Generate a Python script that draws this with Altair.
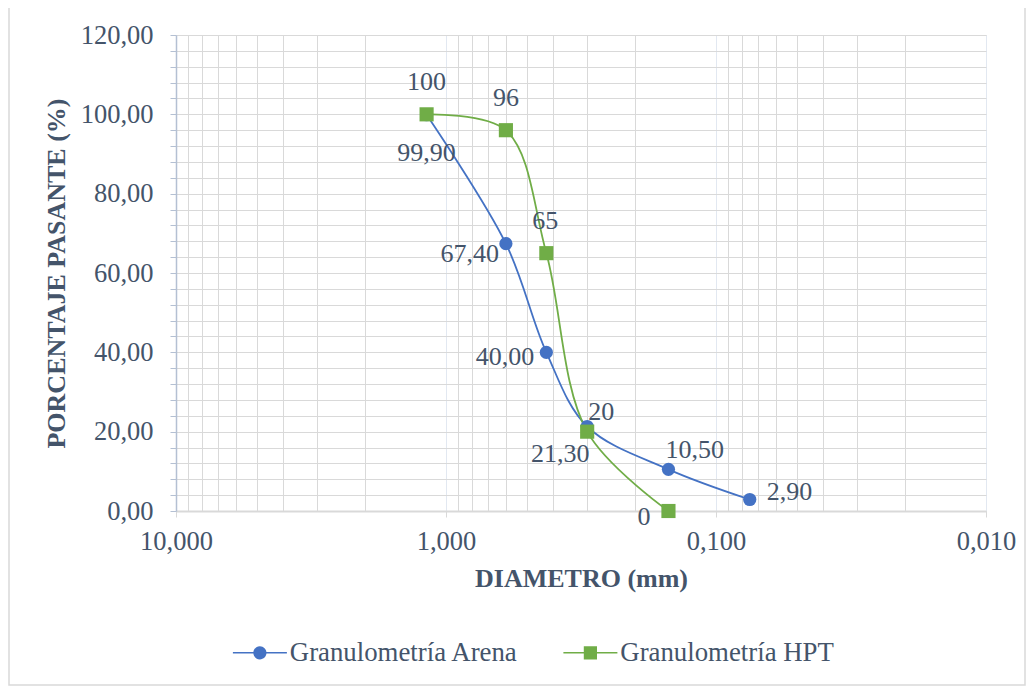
import altair as alt
import pandas as pd

# ---------------- data ----------------
series_names = ["Granulometría Arena", "Granulometría HPT"]
series_colors = ["#4472C4", "#70AD47"]

diam_arena = [1.18, 0.6, 0.425, 0.3, 0.15, 0.075]
pct_arena = [99.90, 67.40, 40.00, 21.30, 10.50, 2.90]

diam_hpt = [1.18, 0.6, 0.425, 0.3, 0.15]
pct_hpt = [100, 96, 65, 20, 0]

x_major = [10, 1, 0.1, 0.01]
y_ticks = list(range(0, 121, 4))

rows = []
for i, (d, p) in enumerate(zip(diam_arena, pct_arena)):
    rows.append({"serie": series_names[0], "i": i, "diam": d, "pct": p,
                 "label": f"{p:.2f}".replace(".", ",")})
for i, (d, p) in enumerate(zip(diam_hpt, pct_hpt)):
    rows.append({"serie": series_names[1], "i": i, "diam": d, "pct": p,
                 "label": f"{p:.0f}"})
df = pd.DataFrame(rows)

# grid values: 1..9 x each decade
x_vals = []
for dec in x_major[:-1]:
    for k in range(10, 1, -1):
        x_vals.append(round(dec * k / 10, 6))
x_vals.append(x_major[-1])
x_vals = sorted(set(x_vals), reverse=True)

FONT = "Liberation Serif"
TXT = "#44546A"
GRID = "#d9d9d9"

is_major = "abs(log(datum.value)/LN10 - round(log(datum.value)/LN10)) < 0.01"

x_axis = alt.Axis(
    values=x_vals,
    labelExpr=f"{is_major} ? replace(format(datum.value, '.3f'), '.', ',') : ''",
    title="DIAMETRO (mm)",
    grid=True,
    gridColor={"condition": {"test": is_major, "value": "#e2e8f1"}, "value": GRID},
    gridWidth=1,
    tickColor={"condition": {"test": is_major, "value": GRID}, "value": "transparent"},
    tickSize=6,
    domainColor=GRID,
    domainWidth=2,
    labelFlush=False,
    labelOverlap=False,
    labelFont=FONT,
    labelFontSize=26.5,
    labelColor=TXT,
    labelPadding=11,
    titleFont=FONT,
    titleFontSize=26,
    titleFontWeight="bold",
    titleColor=TXT,
    titlePadding=11,
)

y_axis = alt.Axis(
    values=y_ticks,
    labelExpr="datum.value % 20 == 0 ? replace(format(datum.value, '.2f'), '.', ',') : ''",
    title="PORCENTAJE PASANTE (%)",
    grid=True,
    gridColor=GRID,
    gridWidth=1,
    tickColor="#b4c0d3",
    tickSize=6,
    domainColor="#b4c0d3",
    domainWidth=1.5,
    labelOverlap=False,
    labelFont=FONT,
    labelFontSize=26.5,
    labelColor=TXT,
    labelPadding=17,
    titleFont=FONT,
    titleFontSize=26,
    titleFontWeight="bold",
    titleColor=TXT,
    titlePadding=11,
)

x_scale = alt.Scale(type="log", domain=[0.01, 10], reverse=True)
y_scale = alt.Scale(domain=[0, 120], nice=False, zero=False)
color_scale = alt.Scale(domain=series_names, range=series_colors)

X = alt.X("diam:Q", scale=x_scale, axis=x_axis)
Y = alt.Y("pct:Q", scale=y_scale, axis=y_axis)

base = alt.Chart(df)

# outer chart frame
frame = alt.Chart(alt.Data(values=[{"f": 1}])).mark_rect(
    fill="transparent", stroke=GRID, strokeWidth=1.5
).encode(
    x=alt.value(-167), x2=alt.value(849), y=alt.value(-29), y2=alt.value(650)
)

# legend symbols: line with marker
path_circle = "M-4.5,-0.13H4.5V0.13H-4.5Z M1.1,0A1.1,1.1,0,1,1,-1.1,0A1.1,1.1,0,1,1,1.1,0Z"
path_square = "M-4.5,-0.13H4.5V0.13H-4.5Z M-1.1,-1.1H1.1V1.1H-1.1Z"

legend_layer = base.transform_filter("false").mark_point(
    filled=True, size=144, opacity=1
).encode(
    x=X, y=Y,
    color=alt.Color("serie:N", scale=color_scale, legend=alt.Legend(
        title=None, orient="none", direction="horizontal",
        legendX=48.5, legendY=604,
        labelFont=FONT, labelFontSize=26.8, labelColor=TXT, labelLimit=500,
        symbolSize=144, symbolStrokeWidth=0, symbolOpacity=1,
        symbolOffset=22, labelOffset=16.5, columnPadding=36.5, padding=0,
    )),
    shape=alt.Shape("serie:N", scale=alt.Scale(domain=series_names,
                                               range=[path_circle, path_square])),
)

lines = base.mark_line(interpolate="catmull-rom", strokeWidth=1.8).encode(
    x=X, y=Y,
    color=alt.Color("serie:N", scale=color_scale),
    detail="serie:N",
)

pts_arena = base.transform_filter(
    alt.datum.serie == series_names[0]
).mark_point(shape="circle", filled=True, size=175, opacity=1).encode(
    x=X, y=Y, color=alt.Color("serie:N", scale=color_scale)
)
pts_hpt = base.transform_filter(
    alt.datum.serie == series_names[1]
).mark_point(shape="square", filled=True, size=200, opacity=1).encode(
    x=X, y=Y, color=alt.Color("serie:N", scale=color_scale)
)

# label placement per point: (serie index, point index, align, dx, dy)
label_styles = [
    (0, 0, "center", 0, 38),
    (0, 1, "right", -7, 10),
    (0, 2, "right", -12, 5),
    (0, 3, "center", -27, 27),
    (0, 4, "left", -3, -19),
    (0, 5, "left", 17, -7),
    (1, 0, "center", 0, -32),
    (1, 1, "center", 0, -32),
    (1, 2, "center", -1, -32),
    (1, 3, "left", 1, -20),
    (1, 4, "right", -18, 6),
]
label_layers = []
for s, i, al, dx, dy in label_styles:
    label_layers.append(
        base.transform_filter(
            (alt.datum.serie == series_names[s]) & (alt.datum.i == i)
        ).mark_text(
            align=al, baseline="middle", dx=dx, dy=dy,
            font=FONT, fontSize=26, color=TXT
        ).encode(x=X, y=Y, text="label:N")
    )

chart = alt.layer(
    frame, legend_layer, lines, pts_arena, pts_hpt, *label_layers
).properties(
    width=810, height=476,
    padding={"left": 168, "top": 27, "right": 40, "bottom": 176},
    autosize=alt.AutoSizeParams(type="none"),
).configure_view(
    stroke=GRID, strokeWidth=1.5
).configure(background="white")

chart.save("out.html", embed_options={"renderer": "svg", "actions": False})
